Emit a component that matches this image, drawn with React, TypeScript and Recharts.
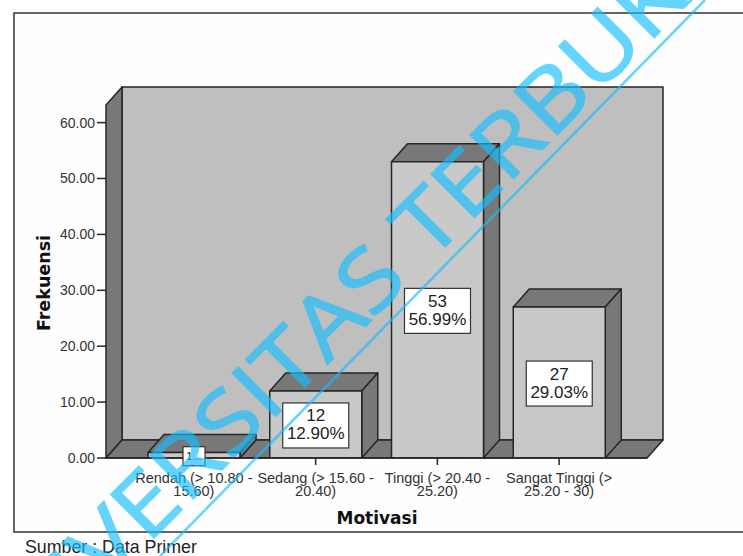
import React from "react";
import { BarChart, Bar, XAxis, YAxis, LabelList, usePlotArea } from "recharts";

// Respondent motivation levels
const categories = ["Rendah", "Sedang", "Tinggi", "Sangat Tinggi"];
const tickLines = [
  ["Rendah (> 10.80 -", "15.60)"],
  ["Sedang (> 15.60 -", "20.40)"],
  ["Tinggi (> 20.40 -", "25.20)"],
  ["Sangat Tinggi (>", "25.20 - 30)"],
];
const frequencies = [1, 12, 53, 27];
const countLabels = ["1...", "12", "53", "27"];
const percentLabels = ["", "12.90%", "56.99%", "29.03%"];
const yTicks = [0, 10, 20, 30, 40, 50, 60];

const rows = categories.map((name, i) => ({ name, frequency: frequencies[i] }));

const W = 743;
const H = 556;
const DX = 16;
const DY = 18;
const FONT = "'Liberation Sans', Arial, sans-serif";
const TITLE_FONT = "'DejaVu Sans', Verdana, sans-serif";
const WALL = "#bfbfbf";
const SIDE = "#787878";
const FRONT = "#c9c9c9";
const EDGE = "#262626";
const MARK = "rgb(20,190,255)";

// Back wall, left wall and floor of the pseudo-3D plot box
function Room() {
  const p = usePlotArea();
  if (!p) return null;
  const l = p.x;
  const r = p.x + p.width;
  const t = p.y;
  const b = p.y + p.height;
  const poly = (pts: number[][]) => pts.map((q) => q.join(",")).join(" ");
  return (
    <g stroke={EDGE} strokeWidth={1.5} strokeLinejoin="round">
      <polygon fill={WALL} points={poly([[l + DX, t - DY], [r + DX, t - DY], [r + DX, b - DY], [l + DX, b - DY]])} />
      <polygon fill={SIDE} points={poly([[l, t], [l + DX, t - DY], [l + DX, b - DY], [l, b]])} />
      <polygon fill={SIDE} points={poly([[l, b], [l + DX, b - DY], [r + DX, b - DY], [r, b]])} />
    </g>
  );
}

// Front, top and right faces of a column
function Column(props: any) {
  const { x, y, width, height } = props;
  const poly = (pts: number[][]) => pts.map((q) => q.join(",")).join(" ");
  const r = x + width;
  const b = y + height;
  return (
    <g stroke={EDGE} strokeWidth={1.5} strokeLinejoin="round">
      <polygon fill={SIDE} points={poly([[x, y], [x + DX, y - DY], [r + DX, y - DY], [r, y]])} />
      <polygon fill={SIDE} points={poly([[r, y], [r + DX, y - DY], [r + DX, b - DY], [r, b]])} />
      <rect x={x} y={y} width={width} height={height} fill={FRONT} />
    </g>
  );
}

// White count / percent box centred on a column's front face
function ValueBox(props: any) {
  const { x, y, width, height, index } = props;
  const cx = x + width / 2;
  const cy = y + height / 2 + 1;
  const percent = percentLabels[index];
  const bw = percent ? 66 : 22;
  const bh = percent ? 45 : 19;
  return (
    <g fontFamily={FONT} textAnchor="middle" fill="#222">
      <rect x={cx - bw / 2} y={cy - bh / 2} width={bw} height={bh} fill="#fff" stroke="#333" strokeWidth={1.2} />
      {percent ? (
        <>
          <text x={cx} y={cy - 4} fontSize={17}>{countLabels[index]}</text>
          <text x={cx} y={cy + 14} fontSize={17}>{percent}</text>
        </>
      ) : (
        <text x={cx} y={cy + 4} fontSize={11}>{countLabels[index]}</text>
      )}
    </g>
  );
}

function CategoryTick(props: any) {
  const { x, y, payload, index } = props;
  const lines = tickLines[index ?? payload.index];
  return (
    <text x={x} textAnchor="middle" fontFamily={FONT} fontSize={14.5} fill="#333">
      {lines.map((s: string, i: number) => (
        <tspan key={s} x={x} y={y + 16 + i * 13}>{s}</tspan>
      ))}
    </text>
  );
}

export default function App() {
  return (
    <div style={{ position: "absolute", left: 0, top: 0, width: W, height: H, background: "#fff", overflow: "hidden" }}>
      <svg width={W} height={H} style={{ position: "absolute", left: 0, top: 0 }}>
        <rect x={14} y={13} width={W + 20} height={519} fill="#fefefe" stroke="#333" strokeWidth={1.5} />
        <text x={25} y={553} fontFamily={FONT} fontSize={17.8} fill="#222">Sumber : Data Primer</text>
      </svg>
      <div style={{ position: "absolute", left: 0, top: 0 }}>
        <BarChart
          width={W}
          height={H}
          data={rows}
          margin={{ top: 105, right: 96, bottom: 0, left: 0 }}
          style={{ background: "transparent" }}
        >
          <Room />
          <XAxis
            dataKey="name"
            interval={0}
            padding={{ left: 27, right: 27 }}
            axisLine={{ stroke: EDGE, strokeWidth: 1.5 }}
            tickLine={{ stroke: EDGE, strokeWidth: 1.5 }}
            tickSize={7}
            tick={<CategoryTick />}
            height={98}
          />
          <YAxis
            type="number"
            domain={[0, 63.15]}
            ticks={yTicks}
            allowDataOverflow
            tickFormatter={(v: number) => v.toFixed(2)}
            axisLine={false}
            tickLine={{ stroke: EDGE, strokeWidth: 1.5 }}
            tickSize={9}
            tick={{ fontFamily: FONT, fontSize: 14, fill: "#333" }}
            width={106}
          />
          <Bar dataKey="frequency" barSize={92} shape={<Column />} isAnimationActive={false}>
            <LabelList dataKey="frequency" content={<ValueBox />} />
          </Bar>
        </BarChart>
      </div>
      <svg width={W} height={H} style={{ position: "absolute", left: 0, top: 0, pointerEvents: "none" }}>
        <text x={377} y={524} textAnchor="middle" fontFamily={TITLE_FONT} fontWeight="bold" fontSize={17} fill="#111">Motivasi</text>
        <text transform="translate(50,283) rotate(-90)" textAnchor="middle" fontFamily={TITLE_FONT} fontWeight="bold" fontSize={17.5} fill="#111">Frekuensi</text>
        <g opacity={0.65}>
          <text
            transform="translate(-19,711) rotate(-45) scale(1.16,1)"
            fontFamily="'Open Sans', 'Noto Sans', sans-serif"
            fontSize={86}
            fill={MARK}
            stroke={MARK}
            strokeWidth={1.4}
          >
            UNIVERSITAS TERBUKA
          </text>
          <line x1={160} y1={556} x2={705} y2={0} stroke={MARK} strokeWidth={2.5} />
        </g>
      </svg>
    </div>
  );
}
